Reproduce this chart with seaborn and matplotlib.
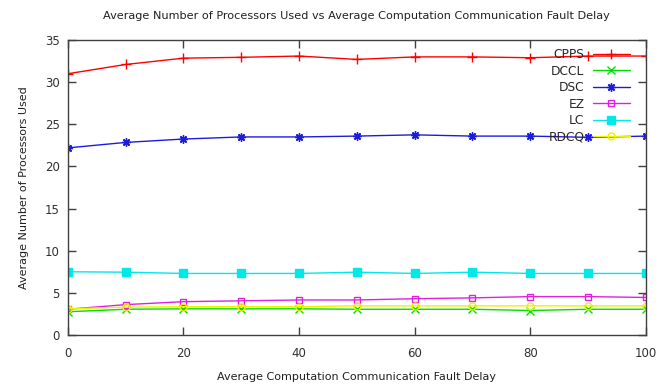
import numpy as np
import pandas as pd
import matplotlib
matplotlib.use("Agg")
import matplotlib.pyplot as plt
import seaborn as sns

# Fault delay values on the x axis
delay = [0, 10, 20, 30, 40, 50, 60, 70, 80, 90, 100]

# Average number of processors used by each scheduling algorithm
cpps = [31.0, 32.1, 32.85, 32.95, 33.1, 32.7, 33.0, 33.0, 32.9, 33.1, 33.1]
dccl = [2.75, 3.05, 3.1, 3.1, 3.1, 3.05, 3.05, 3.05, 2.9, 3.05, 3.05]
dsc = [22.2, 22.85, 23.25, 23.5, 23.5, 23.6, 23.75, 23.6, 23.6, 23.45, 23.6]
ez = [3.05, 3.6, 3.95, 4.05, 4.15, 4.15, 4.3, 4.4, 4.55, 4.55, 4.45]
lc = [7.5, 7.45, 7.3, 7.3, 7.3, 7.45, 7.3, 7.45, 7.3, 7.3, 7.3]
rdcq = [3.1, 3.3, 3.35, 3.35, 3.35, 3.45, 3.45, 3.45, 3.45, 3.45, 3.45]

names = ["CPPS", "DCCL", "DSC", "EZ", "LC", "RDCQ"]
series = [cpps, dccl, dsc, ez, lc, rdcq]

colors = {"CPPS": "#ff0000", "DCCL": "#00e000", "DSC": "#1c1ce0",
          "EZ": "#e020e0", "LC": "#00e8e8", "RDCQ": "#f0f000"}
markers = {"CPPS": "+", "DCCL": "x", "DSC": (8, 2, 0),
           "EZ": "s", "LC": "s", "RDCQ": "o"}
sizes = {"CPPS": 6.5, "DCCL": 5.5, "DSC": 6.0, "EZ": 5.0, "LC": 5.5, "RDCQ": 5.0}
hollow = {"EZ", "RDCQ"}

df = pd.DataFrame({
    "delay": delay * len(names),
    "value": sum(series, []),
    "alg": np.repeat(names, len(delay)),
})

sns.set_style("ticks")
plt.rcParams["font.family"] = ["DejaVu Sans"]

fig = plt.figure(figsize=(6.72, 3.85), dpi=100)
ax = fig.add_axes([0.101, 0.130, 0.860, 0.766])

for name in names:
    sub = df[df["alg"] == name]
    face = "none" if name in hollow else colors[name]
    sns.lineplot(data=sub, x="delay", y="value", color=colors[name],
                 marker=markers[name], markersize=sizes[name], markeredgewidth=1.0,
                 markeredgecolor=colors[name], markerfacecolor=face,
                 linewidth=1.0, label=name, legend=False, ax=ax)

ax.set_xlim(0, 100)
ax.set_ylim(0, 35)
ax.set_xticks(range(0, 101, 20))
ax.set_yticks(range(0, 36, 5))

for side in ["top", "right", "left", "bottom"]:
    ax.spines[side].set_visible(True)
    ax.spines[side].set_color("#404040")
    ax.spines[side].set_linewidth(1.0)

ax.tick_params(direction="in", length=6, width=1, color="#404040",
               top=True, right=True, labelsize=8.5, labelcolor="#303030", pad=6)
ax.tick_params(axis="x", pad=9)

ax.set_title("Average Number of Processors Used vs Average Computation Communication Fault Delay",
             fontsize=8.1, color="#202020", pad=15)
ax.set_xlabel("Average Computation Communication Fault Delay", fontsize=8,
              color="#202020", labelpad=8)
ax.set_ylabel("Average Number of Processors Used", fontsize=8,
              color="#202020", labelpad=11)

ax.legend(handles=list(ax.lines), labels=names, loc="upper right",
          bbox_to_anchor=(0.985, 0.997), markerfirst=False, frameon=False,
          fontsize=8.8, handlelength=3.0, handletextpad=0.7,
          labelspacing=0.28, borderaxespad=0.2)

fig.savefig("out.png", dpi=100)
